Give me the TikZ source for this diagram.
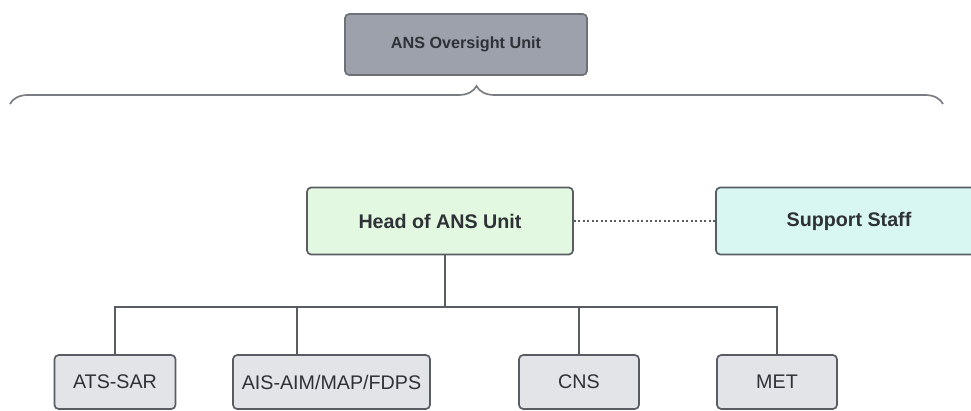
\documentclass[tikz,border=0pt]{standalone}
\usepackage{fontspec}
\setmainfont{Liberation Sans}
\usetikzlibrary{calc,decorations.pathreplacing}
\definecolor{linegray}{HTML}{585C63}
\definecolor{textgray}{HTML}{2E3136}
\definecolor{topgray}{HTML}{9CA1AB}
\definecolor{headgreen}{HTML}{E3F8E0}
\definecolor{staffcyan}{HTML}{D8F7F3}
\definecolor{unitgray}{HTML}{E2E4E8}
\tikzset{
    block/.style = {draw=linegray, line width=1.2pt, rectangle,
        rounded corners=3pt, text=textgray, align=center, inner sep=0pt},
    unit/.style = {block, fill=unitgray,
        minimum width=3cm, minimum height=1.35cm,
        font=\fontsize{14}{16}\selectfont},
    head/.style = {block, minimum width=6.65cm, minimum height=1.675cm,
        font=\fontsize{14}{16}\selectfont\bfseries},
    link/.style = {draw=linegray, line width=1.2pt},
    bracket/.style = {draw=linegray, line width=1.2pt, decorate,
        decoration={brace, amplitude=0.45cm}}
}

\begin{document}
\begin{tikzpicture}[x=0.025cm, y=-0.025cm]
    \useasboundingbox (0,0) rectangle (971,410);
    \clip (0,0) rectangle (971,410);

    \node [block, fill=topgray, draw=topgray!70!black, minimum width=6.05cm,
        minimum height=1.525cm, font=\fontsize{11.5}{13}\selectfont\bfseries]
        (oversight) at (466,44.5) {ANS Oversight Unit};
    \coordinate (braceL) at (10,104);
    \coordinate (braceR) at (943,104);
    \draw [bracket, draw=linegray!80] (braceL) -- (braceR);

    \node [head, fill=headgreen] (head) at (440,221) {Head of ANS Unit};
    \node [head, fill=staffcyan] (staff) at (849,221) {Support Staff};
    \draw [link, dotted] (head) -- (staff);

    \node [unit, minimum width=3.025cm] (atssar) at (115,382) {ATS-SAR};
    \node [unit, minimum width=4.925cm] (aisaim) at (331.5,382) {AIS-AIM/MAP/FDPS};
    \node [unit] (cns) at (579,382) {CNS};
    \node [unit] (met) at (777,382) {MET};

    \coordinate (bus) at (445,307);
    \coordinate (aisdrop) at ([xshift=-0.86cm]aisaim.north);
    \draw [link] (head.south -| bus) -- (bus);
    \draw [link] (atssar.north) |- (bus) -| (met.north);
    \draw [link] (aisdrop) -- (aisdrop |- bus);
    \draw [link] (cns.north) -- (cns.north |- bus);
\end{tikzpicture}
\end{document}
